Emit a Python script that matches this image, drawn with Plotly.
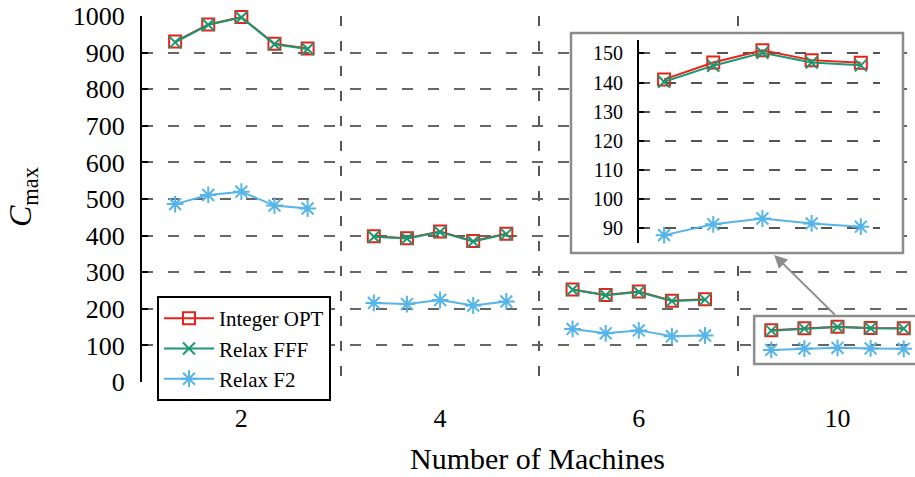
import plotly.graph_objects as go

# ---------------- data ----------------
groups = ["2", "4", "6", "10"]

opt_2 = [930, 977, 997, 924, 911]
opt_4 = [398, 393, 411, 385, 405]
opt_6 = [253, 238, 247, 222, 226]
opt_10 = [141.1, 146.9, 151.1, 147.7, 146.8]

fff_2 = [928, 976, 996, 923, 910]
fff_4 = [397, 392, 410, 384, 404]
fff_6 = [252, 237, 246, 221, 225]
fff_10 = [140.3, 145.8, 150.2, 146.9, 145.9]

f2_2 = [486, 511, 520, 482, 474]
f2_4 = [216, 213, 224, 209, 220]
f2_6 = [145, 133, 141, 125, 127]
f2_10 = [87.7, 91.4, 93.4, 91.7, 90.6]

series = [
    ("Integer OPT", [opt_2, opt_4, opt_6, opt_10], "#e8231b", "square-open", 12),
    ("Relax FFF", [fff_2, fff_4, fff_6, fff_10], "#1a9870", "x-thin-open", 12),
    ("Relax F2", [f2_2, f2_4, f2_6, f2_10], "#56b4e9", "asterisk-open", 14),
]

FONT = "Liberation Serif"
W, H = 915, 477
ML, MR, MT, MB = 142, 0, 16, 95
PW, PH = W - ML - MR, H - MT - MB


def px_to_paper_x(px):
    return (px - ML) / PW


def px_to_paper_y(py):
    return (H - MB - py) / PH


fig = go.Figure()

# main traces: each group is a separate segment
for name, vals, color, sym, size in series:
    xs, ys = [], []
    for g, gv in enumerate(vals):
        for k, v in enumerate(gv):
            xs.append(g + (k + 1) / 6)
            ys.append(v)
        xs.append(None)
        ys.append(None)
    fig.add_trace(go.Scatter(
        x=xs, y=ys, name=name, mode="lines+markers",
        line=dict(color=color, width=2),
        marker=dict(symbol=sym, size=size, color=color, line=dict(color=color, width=2)),
        cliponaxis=False, connectgaps=False,
    ))

# inset background subplot (x2y2) -- empty trace
fig.add_trace(go.Scatter(x=[], y=[], xaxis="x2", yaxis="y2", showlegend=False, hoverinfo="skip"))

# inset traces (x3y3)
for name, vals, color, sym, size in series:
    zv = vals[3]
    fig.add_trace(go.Scatter(
        x=list(range(1, len(zv) + 1)), y=zv, name=name, mode="lines+markers",
        xaxis="x3", yaxis="y3", showlegend=False,
        line=dict(color=color, width=2),
        marker=dict(symbol=sym, size=size, color=color, line=dict(color=color, width=2)),
        cliponaxis=False,
    ))

grid_dash = "11px,15px"

box_x = [px_to_paper_x(571), px_to_paper_x(903)]
box_y = [px_to_paper_y(253), px_to_paper_y(33)]
ins_x = [px_to_paper_x(639), px_to_paper_x(880)]
ins_y = [px_to_paper_y(243), px_to_paper_y(40)]

fig.update_layout(
    width=W, height=H,
    margin=dict(l=ML, r=MR, t=MT, b=MB),
    plot_bgcolor="white", paper_bgcolor="white",
    font=dict(family=FONT, color="black", size=26),
    showlegend=True,
    legend=dict(
        x=px_to_paper_x(157), y=px_to_paper_y(296), xanchor="left", yanchor="top",
        bgcolor="white", bordercolor="black", borderwidth=2,
        font=dict(family=FONT, size=21), tracegroupgap=0, itemwidth=50,
    ),
    xaxis=dict(
        range=[0, 3.89], showline=False, zeroline=False, showgrid=False,
        tickvals=[0.5, 1.5, 2.5, 3.5], ticktext=groups, ticks="",
        ticklabelstandoff=18,
        minor=dict(tickvals=[1, 2, 3], showgrid=True, gridcolor="#555555",
                   griddash="10px,15px", gridwidth=1.5, ticks=""),
    ),
    yaxis=dict(
        range=[0, 1000], tickvals=list(range(0, 1001, 100)),
        showline=True, linecolor="black", linewidth=2,
        ticks="inside", ticklen=6, tickwidth=1.5, tickcolor="black",
        showgrid=True, gridcolor="#666666", griddash=grid_dash, gridwidth=1.5,
        zeroline=False, ticklabelstandoff=10,
    ),
    xaxis2=dict(domain=box_x, anchor="y2", visible=False, range=[0, 1]),
    yaxis2=dict(domain=box_y, anchor="x2", visible=False, range=[0, 1]),
    xaxis3=dict(domain=ins_x, anchor="y3", range=[0.49, 5.39], visible=False),
    yaxis3=dict(
        domain=ins_y, anchor="x3", range=[85, 154.6], tickvals=list(range(90, 151, 10)),
        showline=True, linecolor="black", linewidth=2,
        ticks="inside", ticklen=5, tickwidth=1.5, tickcolor="black",
        showgrid=True, gridcolor="#555555", griddash=grid_dash, gridwidth=1.5,
        zeroline=False, tickfont=dict(size=20), ticklabelstandoff=10,
    ),
    shapes=[
        dict(type="rect", xref="paper", yref="paper",
             x0=box_x[0], x1=box_x[1], y0=box_y[0], y1=box_y[1],
             line=dict(color="#8c8c8c", width=2.5), fillcolor="rgba(0,0,0,0)", layer="above"),
        dict(type="rect", xref="x", yref="y",
             x0=3 + (753 - 737) / 198.5, x1=3.95, y0=49, y1=180,
             line=dict(color="#8c8c8c", width=2.5), fillcolor="rgba(0,0,0,0)", layer="above"),
    ],
    annotations=[
        dict(x=px_to_paper_x(537), y=px_to_paper_y(459), xref="paper", yref="paper",
             text="Number of Machines", showarrow=False, font=dict(size=30),
             xanchor="center", yanchor="middle"),
        dict(x=px_to_paper_x(22), y=px_to_paper_y(197), xref="paper", yref="paper",
             text="<i>C</i><sub>max</sub>", showarrow=False, font=dict(size=32),
             textangle=-90, xanchor="center", yanchor="middle"),
        dict(x=3 + (773 - 737) / 198.5, y=(382 - 255) / 0.366, xref="x", yref="y",
             ax=3 + (835 - 737) / 198.5, ay=180, axref="x", ayref="y",
             text="", showarrow=True, arrowhead=2, arrowsize=1.3, arrowwidth=2,
             arrowcolor="#8c8c8c"),
    ],
)

fig.write_html(
    "out.html",
    config={"displayModeBar": False},
    post_script="document.body.style.margin='0';document.body.style.overflow='hidden';",
)
